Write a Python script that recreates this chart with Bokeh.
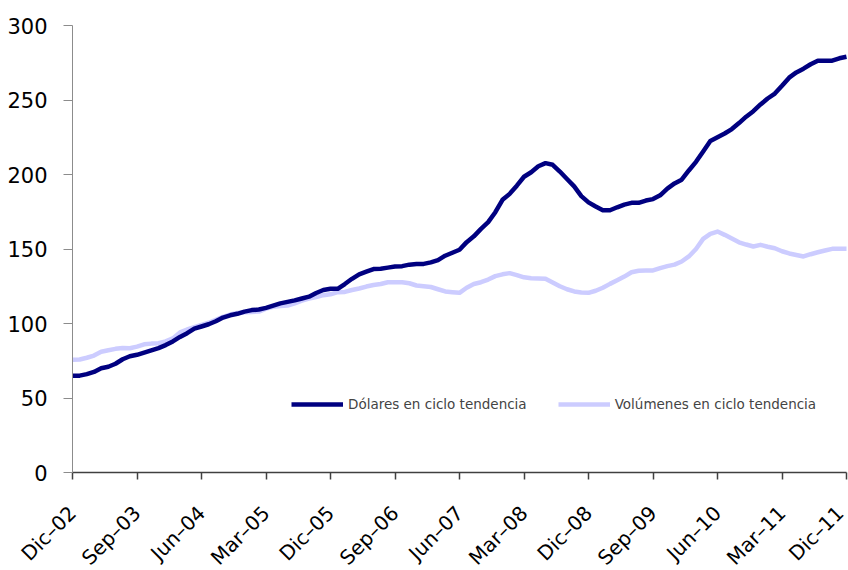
from math import pi
from bokeh.plotting import figure
from bokeh.models import Range1d, FixedTicker, Legend, LegendItem, ColumnDataSource
from bokeh.embed import file_html
from bokeh.resources import INLINE

# Monthly index: Dic-02 (0) .. Dic-11 (108)
tick_labels = ["Dic–02", "Sep–03", "Jun–04", "Mar–05", "Dic–05", "Sep–06", "Jun–07",
               "Mar–08", "Dic–08", "Sep–09", "Jun–10", "Mar–11", "Dic–11"]

dolares = [65, 65, 66, 67.5, 70, 71, 73, 76, 78, 79, 80.5, 82, 83.5, 85.5, 88, 91,
           93.5, 96.5, 98, 99.5, 101.5, 104, 105.5, 106.5, 108, 109, 109.4, 110.5, 112, 113.5,
           114.5, 115.5, 116.8, 118, 120.5, 122.5, 123.3, 123.3, 126.5, 130, 133, 134.8, 136.5,
           136.8, 137.5, 138.2, 138.5, 139.5, 140, 140, 141, 142.5, 145.5, 147.5, 149.5, 154.6,
           158.5, 163.5, 168, 174.7, 183, 187, 192.5, 198.5, 201.5, 205.5, 207.6, 206.5, 202,
           197, 192, 185.5, 181.3, 178.5, 176, 176, 178, 179.8, 181, 181, 182.5, 183.5, 186,
           190.5, 194, 196.5, 202.7, 208.5, 215.5, 222.5, 225, 227.5, 230.5, 234.5, 238.8,
           242.5, 247, 251, 254.3, 259.5, 265, 268.5, 271, 274, 276.4, 276.4, 276.4, 278, 279]

volumenes = [75.6, 75.8, 77, 78.5, 81, 82, 83, 83.5, 83.4, 84.5, 86, 86.5, 86.8, 88, 90, 94,
             96, 97.5, 99.1, 100.5, 102.5, 104.5, 106, 107, 107.6, 107.8, 108, 110, 111.2, 111.8,
             112, 113.5, 115.4, 116.8, 117.8, 119, 119.6, 121, 121.2, 122.5, 123.5, 124.8, 125.8,
             126.5, 127.7, 127.7, 127.7, 127, 125.5, 125, 124.5, 123, 121.5, 121, 120.6, 124,
             126.5, 127.7, 129.5, 131.8, 133, 133.8, 132.5, 131, 130.4, 130.2, 130, 127.5, 125,
             123, 121.5, 120.8, 120.6, 122, 124, 126.6, 129, 131.5, 134.4, 135.4, 135.6, 135.6,
             137.2, 138.5, 139.5, 141.6, 145, 150, 156.8, 160.2, 161.7, 159.5, 157, 154.5, 153,
             151.7, 152.8, 151.5, 150.5, 148.5, 147, 146, 145, 146.5, 147.8, 149, 150.1, 150.1, 150.1]

months = list(range(len(dolares)))
tick_pos = list(range(0, 109, 9))
y_ticks = [0, 50, 100, 150, 200, 250, 300]

src = ColumnDataSource(dict(m=months, d=dolares, v=volumenes))

# The frame fills the whole canvas; axes are drawn at fixed data locations.
# x: month 0 at 72 px, month 108 at 846 px; y: 0 at 472 px, 300 at 25 px.
W, H = 848, 570
px_x = (846 - 72) / 108
px_y = (472 - 25) / 300
x_range = Range1d(-72 / px_x, 108 + (W - 846) / px_x)
y_range = Range1d(-(H - 472) / px_y, 300 + 25 / px_y)

p = figure(width=W, height=H, output_backend="svg", toolbar_location=None,
           x_range=x_range, y_range=y_range, min_border=0)
p.outline_line_color = None
p.xgrid.visible = False
p.ygrid.visible = False
p.background_fill_color = "white"
p.border_fill_color = "white"

r_v = p.line("m", "v", source=src, line_color="#CCCCFF", line_width=4.5, line_join="round")
r_d = p.line("m", "d", source=src, line_color="#000080", line_width=4.5, line_join="round")

font = "DejaVu Sans"
# y axis drawn at month 0
p.yaxis.fixed_location = 0
p.yaxis.ticker = FixedTicker(ticks=y_ticks)
p.yaxis.bounds = (0, 300)
p.yaxis.axis_line_color = "#8c8c8c"
p.yaxis.major_tick_line_color = "#8c8c8c"
p.yaxis.major_tick_out = 9
p.yaxis.major_tick_in = 0
p.yaxis.minor_tick_line_color = None
p.yaxis.major_label_standoff = 16
p.yaxis.major_label_text_font = font
p.yaxis.major_label_text_font_size = "21px"
p.yaxis.major_label_text_color = "black"

# x axis drawn at value 0
p.xaxis.fixed_location = 0
p.xaxis.bounds = (0, 108)
p.xaxis.ticker = FixedTicker(ticks=tick_pos)
p.xaxis.major_label_overrides = {pos: lab for pos, lab in zip(tick_pos, tick_labels)}
p.xaxis.axis_line_color = "#404040"
p.xaxis.axis_line_width = 1.5
p.xaxis.major_tick_line_color = "#404040"
p.xaxis.major_tick_line_width = 1.5
p.xaxis.major_tick_out = 7
p.xaxis.major_tick_in = 0
p.xaxis.minor_tick_line_color = None
p.xaxis.major_label_orientation = pi / 4
p.xaxis.major_label_standoff = 30
p.xaxis.major_label_text_font = font
p.xaxis.major_label_text_font_size = "20px"
p.xaxis.major_label_text_color = "black"

legend = Legend(items=[LegendItem(label="Dólares en ciclo tendencia", renderers=[r_d]),
                       LegendItem(label="Volúmenes en ciclo tendencia", renderers=[r_v])],
                location=(291, 158), orientation="horizontal")
legend.label_text_font = font
legend.label_text_font_size = "13.5px"
legend.glyph_width = 52
legend.glyph_height = 16
legend.label_height = 16
legend.label_standoff = 5
legend.spacing = 31
legend.padding = 0
legend.margin = 0
legend.border_line_alpha = 0
legend.background_fill_alpha = 0
p.add_layout(legend)

open("out.html", "w").write(file_html(p, INLINE))
